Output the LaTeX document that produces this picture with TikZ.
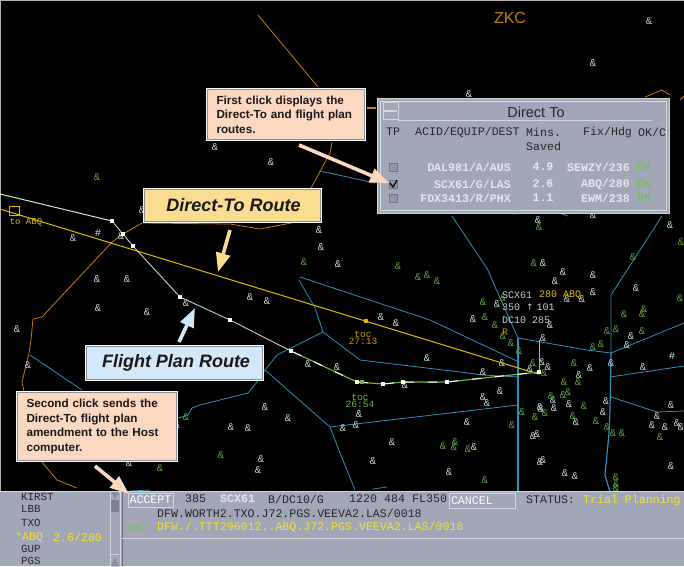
\documentclass[tikz,border=0pt]{standalone}
\usepackage{fontspec}
\setmainfont{Liberation Sans}
\setmonofont{Liberation Mono}
\usetikzlibrary{arrows.meta}

\definecolor{sectorBlue}{HTML}{2E8FB8}
\definecolor{boundOrange}{HTML}{C27C08}
\definecolor{directYellow}{HTML}{DCBC00}
\definecolor{planGreen}{HTML}{6DB33F}
\definecolor{ampGrey}{HTML}{C4D2D2}
\definecolor{ampGreen}{HTML}{5BA33A}
\definecolor{panelGrey}{HTML}{A2A7B8}
\definecolor{panelDark}{HTML}{6E7282}
\definecolor{panelLight}{HTML}{D4D7E0}
\definecolor{rowLight}{HTML}{E3E6EE}
\definecolor{okGreen}{HTML}{6CC24A}
\definecolor{trialYellow}{HTML}{F2E32A}
\definecolor{notePeach}{HTML}{FCD8C0}
\definecolor{noteYellow}{HTML}{FBDD92}
\definecolor{noteBlue}{HTML}{D3E8F8}
\definecolor{noteEdge}{HTML}{8E8E96}

\tikzset{
  sector/.style={draw=sectorBlue,line width=.8pt,line join=round},
  bound/.style={draw=boundOrange,line width=.8pt,line join=round},
  amp/.style={font=\ttfamily\fontsize{10.5}{10.5}\selectfont,text=ampGrey,inner sep=0pt},
  ampg/.style={amp,text=ampGreen},
  fixmark/.style={fill=white,inner sep=0pt,minimum size=4pt,rectangle},
  scope text/.style={font=\ttfamily\fontsize{10}{10}\selectfont,inner sep=0pt},
  scr/.style={font=\ttfamily\fontsize{11.6}{11.6}\selectfont,inner sep=0pt,text=black!85},
  rowtext/.style={scr,font=\ttfamily\bfseries\fontsize{11.6}{11.6}\selectfont,text=rowLight},
  note/.style={draw=noteEdge,line width=1.2pt,preaction={draw=white,line width=3.4pt},fill=notePeach,
    font=\bfseries\fontsize{11.7}{14.6}\selectfont,align=left,inner xsep=9pt,inner ysep=0pt,text=black!90},
  routebox/.style={draw=noteEdge,line width=1.2pt,preaction={draw=white,line width=3.4pt},
    font=\bfseries\itshape\fontsize{18}{18}\selectfont,inner sep=0pt,text=black!90},
  callarrow/.style={line width=3.6pt,-{Triangle[length=19pt,width=14pt]}},
  btn/.style={draw=panelDark,line width=.8pt,inner sep=0pt},
}

\begin{document}
\begin{tikzpicture}[x=1pt,y=-1pt]
\useasboundingbox (0,0) rectangle (684,566);
\fill[black] (0,0) rectangle (684,566);
\draw[gray!60,line width=1pt] (.5,566) -- (.5,.5) -- (684,.5);

% boundaries
\draw[bound] (258,15) -- (318,87) (332,142) -- (330,153) -- (310,190) -- (296,222) -- (260,229) -- (230,224) -- (142,223)
  -- (123,234) -- (112,242) -- (42,317) -- (33,319) -- (31,340) -- (29,353) -- (22,382) -- (30,420) -- (42,462) -- (57,480) -- (77,488);
\draw[bound] (645,97) -- (662,90) -- (670,95) (680,100) -- (684,96);
\draw[bound,line width=1.6pt] (367,108) -- (376,108);
\node[text=boundOrange,font=\fontsize{16}{16}\selectfont,inner sep=0pt] (zkc) at (510,18) {ZKC};

% sectors
\draw[sector] (320,171) -- (375,183);
\draw[sector] (452,216) -- (488,270) -- (492,280) -- (518,338) -- (587,350) -- (611,353) -- (684,323);
\draw[sector] (611,353) -- (611,295) -- (662,216);
\draw[sector] (300,277) -- (430,320) -- (519,362);
\draw[sector] (299,280) -- (315,308) -- (323,332) -- (360,360) -- (460,372) -- (483,375) -- (519,377);
\draw[sector] (323,332) -- (277,355) -- (265,370) -- (257,382) -- (248,393) -- (200,405) -- (192,408) -- (188,415) -- (178,418);
\draw[sector] (265,370) -- (330,427) -- (340,453) -- (355,490);
\draw[sector] (330,427) -- (518,405);
\draw[sector] (30,355) -- (82,390);
\draw[sector] (373,489) -- (387,487);
\draw[sector,line width=1.2pt] (518,338) -- (518,492);
\draw[sector,line width=1.2pt] (611,353) -- (610,410) -- (609,433) -- (605,475) -- (610,492);
\draw[sector] (610,377) -- (684,366);
\draw[sector] (611,397) -- (657,412) -- (684,411);
\draw[sector] (130,491) -- (150,490) (513,214) -- (520,213) (562,214) -- (568,216);

% scattered traffic
\foreach \x/\y [count=\i] in {215/147,271/162,649/21,593/63,469/94,73/238,97/279,127/279,98/308,147/312,17/329,250/297,186/303,
  121/236,142/210,267/301,381/317,396/323,427/358,308/364,337/367,405/385,265/407,319/230,321/247,338/264,538/220,
  543/263,563/272,555/281,593/275,636/288,670/225,593/215,593/292,497/304,473/319,502/363,483/372,500/391,483/397,487/403,
  550/325,543/338,542/362,530/369,548/367,590/368,579/375,553/400,569/404,554/408,606/401,671/405,582/299,567/299,631/336,
  627/345,611/363,643/367,603/412,540/407,359/414,356/425,343/428,467/422,541/409,576/422,533/436,537/434,392/442,474/447,
  373/461,543/460,540/462,449/472,565/473,575/476,671/466,652/425,665/427,657/416,677/423,681/427,28/365,288/418,231/427,
  248/428,177/425,261/459,258/470,129/463}
  \node[amp] (trk\i) at (\x,\y) {\&};
\foreach \x/\y [count=\i] in {97/177,304/262,398/266,418/277,427/275,437/281,539/227,534/263,633/257,681/242,483/302,485/317,
  495/325,503/298,503/336,511/343,519/351,533/363,544/373,574/363,578/382,564/382,563/395,568/392,551/396,584/406,680/298,
  624/314,644/309,642/314,607/331,616/329,642/331,601/344,593/347,512/425,522/412,535/417,545/413,573/416,596/421,607/427,
  613/433,622/433,455/442,443/446,454/447,468/449,485/480,616/477,616/484,616/488,660/437,186/417,221/455,160/468}
  \node[ampg] (grn\i) at (\x,\y) {\&};
\node[amp,text=rowLight] (hash1) at (98,233) {\#};
\node[amp,text=rowLight] (hash2) at (672,356) {\#};

% direct-to route
\coordinate (dtstart) at (0,209);
\coordinate (dtend) at (538,374);
\draw[directYellow,line width=1pt] (dtstart) -- (dtend);
\node[fill=directYellow,inner sep=0pt,minimum size=4pt] (toca) at (366,321) {};
\node[scope text,text=directYellow!85!black,align=center,font=\ttfamily\fontsize{9.6}{7.2}\selectfont] (toclabel) at (363,338) {toc\\27:13};
\node[draw=directYellow,line width=.7pt,inner sep=0pt,minimum width=10pt,minimum height=9pt] (tobox) at (14,211) {};
\node[scope text,text=directYellow,font=\ttfamily\fontsize{9}{9}\selectfont] (tolabel) at (26,222) {to ABQ};

% flight plan route
\coordinate (fpstart) at (0,194);
\foreach \x/\y [count=\i] in {112/221,123/234,133/246,180/297,230/320,291/351,357/382,383/384,403/382,447/382,539/372}
  \node[fixmark] (fp\i) at (\x,\y) {};
\draw[white!70!planGreen,line width=1pt] (fpstart) -- (fp1);
\draw[white!80!black,line width=.9pt] (fp1) -- (fp2) -- (fp3) -- (fp4) -- (fp5) -- (fp6);
\draw[planGreen,line width=1.2pt] (fp6) -- (fp7) -- (fp8) -- (fp9) -- (fp10) -- (fp11);
\draw[white,line width=1pt,dash pattern=on 9pt off 14pt] (fp6) -- (fp7) -- (fp8) -- (fp9) -- (fp10) -- (fp11);
\node[fill=planGreen,inner sep=0pt,minimum size=4pt] (tocb) at (362,382) {};
\node[scope text,text=planGreen,align=center,font=\ttfamily\fontsize{9.6}{7.2}\selectfont] (tocblabel) at (360,401) {toc\\26:54};
\coordinate (stem) at (539,340);
\draw[gray!60,line width=1pt] (stem) -- (fp11);

% data tag
\node[scope text,text=ampGrey,anchor=west] (tag1) at (502,295) {SCX61};
\node[scope text,text=directYellow,anchor=west] (tag1b) at (539,295) {280 ABQ};
\node[scope text,text=ampGrey,anchor=west] (tag2) at (502,307) {350 \fontspec{DejaVu Sans}\fontsize{9}{9}\selectfont↑ \ttfamily\fontsize{10}{10}\selectfont 101};
\node[scope text,text=ampGrey,anchor=west] (tag3) at (502,320) {DC10 285};
\node[scope text,text=directYellow!85!black,anchor=west] (tag4) at (502,332) {R};

% direct to window
\node[fill=panelGrey,draw=panelLight,line width=1pt,minimum width=292pt,minimum height=115pt,inner sep=0pt,anchor=north west] (win) at (377,98) {};
\draw[panelLight,line width=.4pt] (380,101) rectangle (666,210);
\draw[panelLight,line width=.4pt] (398,120) -- (652,120);
\node[btn,draw=panelLight,fill=panelGrey,minimum width=15pt,minimum height=17pt] (winbtn) at (390.5,111) {};
\draw[panelLight,line width=1.4pt] (384,111) -- (397,111);
\node[font=\fontsize{14.5}{14.5}\selectfont,inner sep=0pt,text=black!85] (wintitle) at (536,112) {Direct To};
\node[scr] (headtp) at (393,132) {TP};
\node[scr,anchor=west] (headacid) at (415,132) {ACID/EQUIP/DEST};
\node[scr,anchor=west] (headmins) at (526,132) {Mins.};
\node[scr,anchor=west] (headsaved) at (526,146) {Saved};
\node[scr,anchor=west] (headfix) at (583,132) {Fix/Hdg};
\node[scr,anchor=west] (headok) at (638,132) {OK/C};
\foreach \acid/\mins/\fix/\y [count=\i] in {{DAL981/A/AUS}/4.9/{SEWZY/236}/167,{SCX61/G/LAS}/2.6/{ABQ/280}/184,{FDX3413/R/PHX}/1.1/{EWM/238}/198}{
  \node[btn,fill=panelGrey!90!black,minimum size=8pt] (chk\i) at (393,\y) {};
  \node[rowtext,anchor=east] (acid\i) at (511,\y) {\acid};
  \node[rowtext] (mins\i) at (543,\y) {\mins};
  \node[rowtext,anchor=east] (fix\i) at (630,\y) {\fix};
  \node[scr,text=okGreen] (ok\i) at (644,\y) {OK};
}
\draw[black,line width=1.2pt] (390,183) -- (393,187) -- (397,180);

% bottom panel
\fill[panelGrey] (0,491) rectangle (684,566);
\draw[panelLight,line width=.8pt] (0,491) -- (684,491);
\foreach \lab/\y [count=\i] in {KIRST/497,LBB/509,TXO/523,GUP/549,PGS/561}
  \node[scr,font=\ttfamily\fontsize{10.8}{10.8}\selectfont,anchor=west] (list\i) at (21,\y) {\lab};
\node[scr,text=trialYellow,anchor=west] (listabq) at (15,537) {*ABQ};
\node[scr,text=trialYellow,anchor=west] (listval) at (53,537) {2.6/280};
\draw[panelLight,line width=.6pt] (110,492) rectangle (120,566);
\fill[panelDark!70!panelGrey] (111,500) rectangle (119,512);
\fill[panelDark!50!panelGrey] (111,492) -- (119,492) -- (115,499) -- cycle;
\fill[panelDark!50!panelGrey] (111,566) -- (119,566) -- (115,558) -- cycle;
\draw[panelLight,line width=.5pt] (111,554) -- (119,554);
\draw[panelDark,line width=1pt] (122,491) -- (122,566);
\draw[panelLight,line width=1pt] (122,538) -- (684,538);
\node[btn,draw=panelLight,text=white,font=\ttfamily\fontsize{11.6}{11.6}\selectfont,minimum width=45pt,minimum height=14pt] (accept) at (150.5,500) {ACCEPT};
\node[btn,draw=panelLight,text=white,font=\ttfamily\fontsize{11.6}{11.6}\selectfont,minimum width=66pt,minimum height=15pt,text width=62pt] (cancel) at (482,500.5) {CANCEL};
\node[scr,anchor=west] (fid) at (185,499) {385};
\node[rowtext,anchor=west] (callsign) at (220,499) {SCX61};
\node[scr,anchor=west] (equip) at (268,499) {B/DC10/G};
\node[scr,anchor=west] (time) at (349,499) {1220};
\node[scr,anchor=west] (speed) at (384,499) {484};
\node[scr,anchor=west] (level) at (412,499) {FL350};
\node[scr,anchor=west] (status) at (526,500) {STATUS:};
\node[scr,text=trialYellow,anchor=west] (trial) at (583,500) {Trial Planning};
\node[scr,anchor=west] (oldroute) at (157,513) {DFW.WORTH2.TXO.J72.PGS.VEEVA2.LAS/0018};
\node[scr,text=trialYellow,anchor=west] (newroute) at (157,527) {DFW./.TTT296012..ABQ.J72.PGS.VEEVA2.LAS/0018};
\node[scr,text=okGreen,anchor=west] (okroute) at (129,529) {OK};

% notes
\node[note,text width=139pt,minimum height=50pt] (firstnote) at (286,114.5) {First click displays the\\Direct-To and flight plan\\routes.};
\node[note,text width=141pt,minimum height=68pt] (secondnote) at (97,426.5) {Second click sends the\\Direct-To flight plan\\amendment to the Host\\computer.};
\node[routebox,fill=noteYellow,minimum width=176pt,minimum height=32pt] (dtnote) at (232.5,205.5) {\hspace{2pt}Direct-To Route};
\node[routebox,fill=noteBlue,minimum width=176pt,minimum height=33pt] (fpnote) at (174.5,363) {\hspace{3pt}Flight Plan Route};

\coordinate (firsttail) at (299,145);
\coordinate (firsttip) at (389,183);
\coordinate (secondtail) at (95,466);
\coordinate (secondtip) at (129,494);
\coordinate (dttail) at (230,230);
\coordinate (dttip) at (218,272);
\coordinate (fptail) at (179,342);
\coordinate (fptip) at (195,308);
\draw[callarrow,draw=notePeach,fill=notePeach] (firsttail) -- (firsttip);
\draw[callarrow,draw=notePeach,fill=notePeach] (secondtail) -- (secondtip);
\draw[callarrow,draw=noteYellow,fill=noteYellow] (dttail) -- (dttip);
\draw[callarrow,draw=noteBlue,fill=noteBlue] (fptail) -- (fptip);
\end{tikzpicture}
\end{document}
